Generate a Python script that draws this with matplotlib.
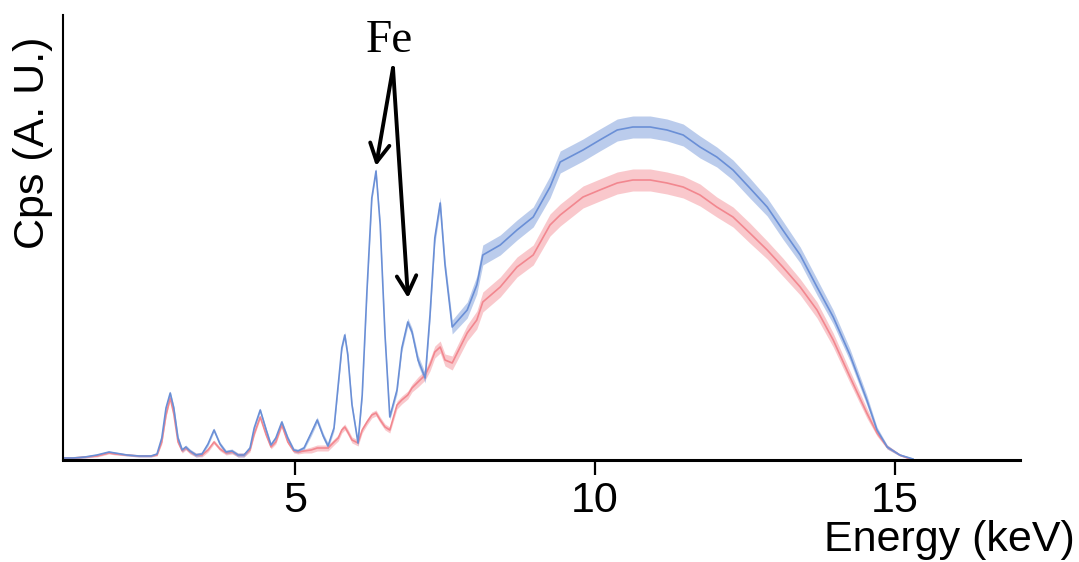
import matplotlib
matplotlib.use("Agg")
import matplotlib.pyplot as plt
import numpy as np

# Energy (keV) sample positions
energy = [1.15, 1.3, 1.5, 1.7, 1.9, 2.0, 2.2, 2.4, 2.6, 2.7,
          2.78, 2.85, 2.92, 2.98, 3.05, 3.12, 3.18, 3.25, 3.35, 3.45,
          3.55, 3.65, 3.75, 3.85, 3.95, 4.05, 4.15, 4.25,
          4.32, 4.42, 4.52, 4.6, 4.68, 4.78, 4.88, 4.98, 5.05, 5.15,
          5.27, 5.37, 5.47, 5.55, 5.65, 5.72, 5.78, 5.83, 5.88, 5.95, 6.05,
          6.12, 6.2, 6.28, 6.35, 6.42, 6.5, 6.58,
          6.7, 6.78, 6.88, 6.95, 7.05, 7.17,
          7.25, 7.33, 7.42, 7.5, 7.62,
          7.87, 8.03, 8.13, 8.42, 8.7, 8.97, 9.25, 9.42, 9.8, 10.08,
          10.37, 10.63, 10.92, 11.2, 11.47, 11.75, 12.03, 12.3, 12.58,
          12.87, 13.13, 13.42, 13.7, 13.97, 14.25, 14.53, 14.7, 14.87,
          15.08, 15.3]

# Counts (arbitrary units) - blue spectrum
blue = [2, 2, 3, 5, 8, 7, 5, 4, 4, 6,
        22, 52, 67, 52, 22, 10, 13, 9, 5, 6,
        16, 30, 16, 8, 9, 5, 5, 12,
        32, 50, 30, 15, 22, 38, 22, 10, 9, 12,
        27, 40, 24, 14, 32, 75, 112, 125, 105, 55, 17,
        65, 170, 262, 289, 235, 125, 43,
        70, 112, 138, 128, 100, 82,
        145, 222, 257, 195, 133,
        150, 175, 205, 215, 230, 243, 273, 298, 310, 320,
        330, 333, 333, 330, 325, 313, 303, 290, 272,
        253, 230, 205, 173, 143, 105, 60, 30, 13,
        5, 1]

# Counts (arbitrary units) - red spectrum
red = [2, 2, 3, 4, 7, 6, 5, 4, 4, 5,
       18, 45, 62, 46, 18, 9, 12, 8, 5, 5,
       10, 18, 11, 7, 8, 5, 5, 10,
       26, 43, 25, 13, 18, 35, 18, 9, 8, 9,
       10, 12, 12, 12, 18, 22, 30, 33, 28, 20, 17,
       30, 38, 45, 47, 40, 33, 30,
       55, 60, 65, 72, 78, 85,
       95, 108, 113, 100, 97,
       127, 140, 158, 173, 193, 205, 235, 245, 263, 270,
       277, 280, 280, 277, 273, 265, 253, 243, 227,
       210, 193, 173, 150, 120, 83, 47, 27, 13,
       5, 0]

# Half-width of the noisy band
spread = [1, 1, 1, 1, 1, 1, 1, 1, 1, 1,
          2, 2, 2, 2, 2, 2, 2, 2, 2, 2,
          2, 2, 2, 2, 2, 2, 2, 2,
          2, 2, 2, 2, 2, 2, 2, 2, 2, 2,
          3, 3, 3, 3, 3, 3, 3, 3, 3, 3, 3,
          3, 3, 3, 3, 3, 3, 3,
          4, 4, 4, 4, 5, 5,
          6, 6, 6, 6, 7,
          8, 9, 10, 10, 10, 10, 11, 11, 11, 11,
          11, 11, 11, 11, 11, 11, 10, 10, 10,
          9, 9, 8, 8, 7, 6, 5, 3, 2,
          1, 1]

xticks = [5, 10, 15]
xticklabels = ["5", "10", "15"]

blue_c = "#6a8fd6"
red_c = "#f2878f"

fig = plt.figure(figsize=(10.79, 5.62), dpi=100)
ax = fig.add_axes([63/1079, 102/562, 957/1079, 445/562])

e = np.array(energy)
b = np.array(blue, float)
r = np.array(red, float)
s = np.array(spread, float)

ax.fill_between(e, np.clip(r - s, 0, None), r + s, color=red_c, alpha=0.45, lw=0)
ax.plot(e, r, color=red_c, lw=1.2)
ax.fill_between(e, np.clip(b - s, 0, None), b + s, color=blue_c, alpha=0.45, lw=0)
ax.plot(e, b, color=blue_c, lw=1.2)

ax.set_xlim(1.1333, 17.0833)
ax.set_ylim(0, 445)

for sp in ["top", "right"]:
    ax.spines[sp].set_visible(False)
ax.spines["left"].set_linewidth(1.5)
ax.spines["bottom"].set_linewidth(2.2)

ax.set_yticks([])
ax.set_xticks(xticks)
ax.set_xticklabels(xticklabels, fontsize=31, family="Liberation Sans")
ax.tick_params(axis="x", direction="out", length=11, width=1.6, pad=4)

fig.text(33/1079, 1 - 143/562, "Cps (A. U.)", rotation=90, fontsize=31,
         family="Liberation Sans", ha="center", va="center")
fig.text(949/1079, 1 - 540/562, "Energy (keV)", fontsize=31,
         family="Liberation Sans", ha="center", va="center")

# Fe annotation with two arrows
fig.text(389/1079, 1 - 41/562, "Fe", fontsize=34, family="Liberation Serif",
         ha="center", va="center")

def px2data(px, py):
    xd = 1.1333 + (px - 63) / 957 * (17.0833 - 1.1333)
    yd = (460 - py)
    return xd, yd

start = px2data(393, 68)
for tip in [(376, 166), (408, 298)]:
    ax.annotate("", xy=px2data(*tip), xytext=start,
                arrowprops=dict(arrowstyle="->,head_length=1.3,head_width=0.7",
                                color="black", lw=2.8, shrinkA=0, shrinkB=0),
                annotation_clip=False)

fig.savefig("out.png", dpi=100)
